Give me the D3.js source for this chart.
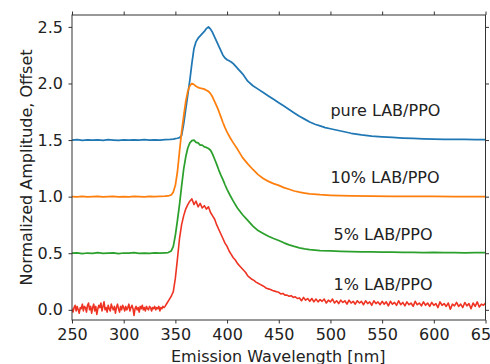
<!DOCTYPE html>
<html>
<head>
<meta charset="utf-8">
<script src="https://cdn.jsdelivr.net/npm/d3@7"></script>
<style>
  html, body { margin: 0; padding: 0; background: #fff; }
  svg { display: block; }
  text { font-family: "DejaVu Sans", sans-serif; fill: #222; }
</style>
</head>
<body>
<svg id="chart" width="490" height="364"></svg>
<script>
// ---------------- data ----------------
const xTicks = [250, 300, 350, 400, 450, 500, 550, 600, 650];
const yTicks = [0.0, 0.5, 1.0, 1.5, 2.0, 2.5];
const seriesNames = ["pure LAB/PPO", "10% LAB/PPO", "5% LAB/PPO", "1% LAB/PPO"];

const blueNm = [250,255,260,265,270,275,280,285,290,295,300,305,310,315,320,325,330,335,340,345,
  348,350,352,354,356,358,360,362,364,366,368,370,372,374,376,378,380,382,384,386,388,390,392,394,396,398,400,402,404,406,408,
  411,415,420,425,430,435,440,445,450,455,460,465,470,475,480,485,490,495,500,
  510,520,530,540,550,560,570,580,590,600,610,620,630,640,650];
const blueVal = [1.500,1.503,1.498,1.502,1.499,1.501,1.497,1.503,1.500,1.498,1.502,1.499,1.501,1.500,1.503,1.499,1.501,1.500,1.504,1.505,
  1.508,1.512,1.516,1.522,1.54,1.64,1.77,1.90,2.03,2.18,2.31,2.37,2.40,2.42,2.44,2.46,2.485,2.50,2.48,2.45,2.41,2.37,2.33,2.29,2.25,2.225,2.21,2.20,2.19,2.175,2.155,
  2.125,2.085,2.02,1.98,1.95,1.92,1.89,1.86,1.83,1.80,1.77,1.74,1.71,1.685,1.66,1.64,1.625,1.61,1.60,
  1.58,1.56,1.545,1.535,1.528,1.523,1.518,1.514,1.511,1.509,1.507,1.506,1.505,1.504,1.503];

const orangeNm = [250,255,260,265,270,275,280,285,290,295,300,305,310,315,320,325,330,335,340,
  343,346,348,350,352,354,356,358,360,362,364,366,368,370,372,374,376,378,380,382,384,386,388,390,392,394,396,398,400,403,406,
  410,415,420,425,430,435,440,445,450,455,460,465,470,475,480,490,500,510,520,540,560,580,600,620,650];
const orangeVal = [1.000,0.998,1.002,0.999,1.001,1.003,0.998,1.000,1.002,0.999,1.001,0.998,1.002,1.000,0.999,1.003,1.001,1.002,1.004,
  1.006,1.015,1.04,1.10,1.22,1.40,1.57,1.71,1.84,1.93,1.98,2.00,1.99,1.975,1.965,1.958,1.955,1.95,1.94,1.93,1.91,1.88,1.84,1.80,1.755,1.705,1.655,1.61,1.57,1.52,1.475,
  1.42,1.345,1.29,1.24,1.195,1.16,1.135,1.115,1.10,1.08,1.065,1.05,1.04,1.032,1.025,1.017,1.012,1.008,1.006,1.004,1.003,1.002,1.002,1.001,1.001];

const greenNm = [250,255,260,265,270,275,280,285,290,295,300,305,310,315,320,325,330,335,340,
  343,346,348,350,352,354,356,358,360,362,364,366,368,370,372,374,376,378,380,382,384,386,388,390,392,394,396,398,400,403,406,
  410,415,420,425,430,435,440,445,450,455,460,465,470,475,480,490,500,510,520,530,540,550,560,570,580,590,600,610,620,630,640,650];
const greenVal = [0.500,0.504,0.497,0.502,0.499,0.506,0.498,0.501,0.503,0.497,0.502,0.500,0.505,0.498,0.501,0.499,0.503,0.500,0.504,
  0.506,0.52,0.56,0.66,0.79,0.93,1.09,1.24,1.35,1.43,1.475,1.495,1.50,1.48,1.475,1.455,1.455,1.44,1.435,1.425,1.41,1.375,1.33,1.285,1.235,1.19,1.15,1.105,1.065,1.01,0.96,
  0.90,0.84,0.79,0.74,0.70,0.675,0.65,0.63,0.612,0.592,0.574,0.56,0.548,0.539,0.532,0.524,0.52,0.517,0.514,0.512,0.511,0.509,0.509,0.507,0.508,0.506,0.507,0.505,0.506,0.504,0.505,0.505];

// red (1%): every 1 nm from 250 to 340, then every 2 nm from 342 to 650
const redNm = d3.range(250, 341, 1).concat(d3.range(342, 651, 2));
const redVal = [
  0.01,-0.02,0.02,0.04,-0.01,0.03,0.00,-0.03,0.02,0.01,
  0.05,-0.01,0.03,0.02,-0.02,0.04,0.06,0.00,0.03,-0.03,
  0.02,0.05,-0.01,0.03,-0.04,0.01,0.04,0.02,0.06,-0.01,
  0.03,0.07,0.00,0.02,-0.02,0.04,0.01,-0.01,0.05,0.02,
  0.00,0.03,-0.03,0.02,0.05,0.01,-0.02,0.03,0.00,0.04,
  0.02,-0.01,0.03,0.00,0.02,0.05,-0.01,0.02,0.04,0.01,
  -0.05,0.01,0.03,0.00,0.02,-0.02,0.03,0.01,0.04,0.00,
  0.02,-0.01,0.03,0.01,0.00,0.03,0.02,-0.01,0.02,0.01,
  0.03,0.00,0.02,0.01,0.03,-0.01,0.02,0.01,0.03,0.02,
  0.03,
  0.06,0.09,0.12,0.16,0.28,0.45,0.63,0.75,0.83,0.89,
  0.93,0.96,0.98,0.93,0.96,0.91,0.94,0.90,0.92,0.89,
  0.91,0.86,0.83,0.80,0.75,0.71,0.67,0.63,0.59,0.56,
  0.52,0.49,0.46,0.44,0.41,0.39,0.37,0.35,0.33,0.30,
  0.285,0.27,0.26,0.245,0.235,0.225,0.215,0.205,0.19,0.185,
  0.18,0.17,0.165,0.16,0.155,0.14,0.145,0.13,0.13,0.12,
  0.125,0.11,0.115,0.10,
  0.105,0.08,0.11,0.085,0.10,0.075,0.10,0.07,0.095,0.07,
  0.09,0.075,0.095,0.06,0.085,0.07,0.095,0.06,0.08,0.055,
  0.085,0.065,0.08,0.05,0.085,0.06,0.075,0.05,0.08,0.06,
  0.075,0.045,0.08,0.055,0.07,0.04,0.08,0.055,0.07,0.045,
  0.075,0.05,0.07,0.035,0.075,0.05,0.065,0.04,0.08,0.045,
  0.065,0.035,0.07,0.045,0.06,0.03,0.075,0.045,0.06,0.035,
  0.07,0.04,0.06,0.03,0.065,0.04,0.055,0.02,0.07,0.04,
  0.055,0.03,0.06,0.005,0.05,0.035,0.065,0.03,0.05,0.02,
  0.065,0.035,0.055,0.01,0.06,0.03,0.07,0.025,0.05,0.04,
  0.06];

// label anchor positions (data units)
const labelNm = [500, 500, 503, 503];
const labelVal = [1.715, 1.12, 0.617, 0.173];
const colors = ["#1f77b4", "#ff7f0e", "#2ca02c", "#ee3322"];

// ---------------- chart ----------------
const svg = d3.select("#chart");
const L = 72, R = 485.5, T = 15, B = 320;
const x = d3.scaleLinear().domain([250, 650]).range([L, R]);
const y = d3.scaleLinear().domain([-0.09, 2.605]).range([B, T]);

const series = [
  {nm: blueNm, v: blueVal},
  {nm: orangeNm, v: orangeVal},
  {nm: greenNm, v: greenVal},
  {nm: redNm, v: redVal}
];

svg.append("clipPath").attr("id", "clip")
  .append("rect").attr("x", L).attr("y", T).attr("width", R - L).attr("height", B - T);

const line = d3.line().x(d => x(d[0])).y(d => y(d[1]));
const g = svg.append("g").attr("clip-path", "url(#clip)");
series.forEach((s, i) => {
  const pts = s.nm.map((n, k) => [n, s.v[k]]);
  g.append("path").datum(pts)
    .attr("d", line)
    .attr("fill", "none")
    .attr("stroke", colors[i])
    .attr("stroke-width", i === 3 ? 1.6 : 1.75)
    .attr("stroke-linejoin", "round");
});

// axes
const fs = "16px";
const ax = svg.append("g").attr("transform", `translate(0,${B})`)
  .call(d3.axisBottom(x).tickValues(xTicks).tickSize(3.5).tickPadding(5.5).tickFormat(d3.format("d")));
const axT = svg.append("g").attr("transform", `translate(0,${T})`)
  .call(d3.axisTop(x).tickValues(xTicks).tickSize(3.5).tickFormat(""));
const ay = svg.append("g").attr("transform", `translate(${L},0)`)
  .call(d3.axisLeft(y).tickValues(yTicks).tickSize(3.5).tickPadding(5.5).tickFormat(d3.format(".1f")));
const ayR = svg.append("g").attr("transform", `translate(${R},0)`)
  .call(d3.axisRight(y).tickValues(yTicks).tickSize(3.5).tickFormat(""));
[ax, axT, ay, ayR].forEach(a => {
  a.select(".domain").remove();
  a.selectAll(".tick line").attr("stroke", "#333").attr("stroke-width", 1);
  a.selectAll(".tick text").attr("font-size", fs).attr("font-family", "DejaVu Sans").attr("fill", "#222");
});

svg.append("rect").attr("x", L).attr("y", T).attr("width", R - L).attr("height", B - T)
  .attr("fill", "none").attr("stroke", "#333").attr("stroke-width", 1);

// axis titles
svg.append("text").attr("x", (L + R) / 2 - 0.5).attr("y", 361.5)
  .attr("text-anchor", "middle").attr("font-size", fs)
  .text("Emission Wavelength [nm]");
svg.append("text")
  .attr("transform", `translate(31.5,${(T + B) / 2}) rotate(-90)`)
  .attr("text-anchor", "middle").attr("font-size", fs)
  .text("Normalized Amplitude, Offset");

// series labels
seriesNames.forEach((name, i) => {
  svg.append("text").attr("x", x(labelNm[i])).attr("y", y(labelVal[i]))
    .attr("font-size", fs).text(name);
});
</script>
</body>
</html>
